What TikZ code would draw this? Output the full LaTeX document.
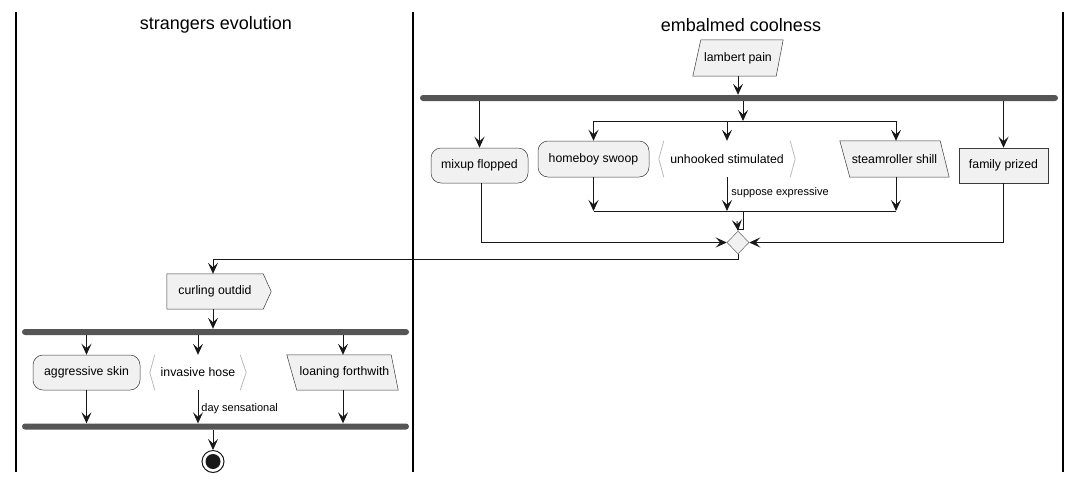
\documentclass[tikz,border=0pt]{standalone}
\usepackage{fontspec}
\setmainfont{Liberation Sans}
\usetikzlibrary{arrows.meta,calc,shapes.geometric}
\definecolor{nodefill}{HTML}{F1F1F1}
\definecolor{nodeline}{HTML}{181818}
\definecolor{barfill}{HTML}{555555}
\definecolor{brk}{HTML}{BBBBBB}
\tikzset{
  box/.style={inner sep=0pt, font=\fontsize{12.3}{14}\selectfont, text=black},
  shapeline/.style={draw=nodeline!85, line width=0.5pt, fill=nodefill},
  roundbox/.style={box, draw=nodeline!85, line width=0.5pt, fill=nodefill, rounded corners=10pt, rectangle},
  plainbox/.style={box, draw=nodeline!85, line width=0.5pt, fill=nodefill, rectangle},
  bar/.style={rectangle, fill=barfill, rounded corners=3pt, minimum height=6pt, inner sep=0pt},
  conn/.style={draw=nodeline, line width=0.9pt},
  arr/.style={conn, -{Stealth[length=11pt,width=10pt,inset=4.5pt]}},
  elabel/.style={font=\fontsize{11}{13}\selectfont, anchor=west, inner sep=0pt},
  lane/.style={line width=1.3pt, draw=black},
  title/.style={font=\fontsize{18}{21}\selectfont, inner sep=0pt},
}
\begin{document}
\begin{tikzpicture}[x=1pt,y=-1pt]
\useasboundingbox (0,0) rectangle (1082,483);
\fill[white] (0,0) rectangle (1082,483);
% lanes
\draw[lane] (16,12) -- (16,472);
\draw[lane] (413,12) -- (413,472);
\draw[lane] (1063,12) -- (1063,472);
\node[title] (t1) at (216,25) {strangers evolution};
\node[title] (t2) at (741,25) {embalmed coolness};

% ---------- right lane ----------
\node[box, minimum width=90pt, minimum height=36pt] (lp) at (738,58) {};
\draw[shapeline] (lp.south west) -- ($(lp.south east)+(-7,0)$) -- (lp.north east) -- ($(lp.north west)+(8,0)$) -- cycle;
\node[box] at (lp) {lambert pain};

\node[bar, minimum width=638pt] (b1) at (739,98) {};

\node[roundbox, minimum width=97pt, minimum height=35pt] (mix) at (479.5,165.5) {mixup flopped};
\node[roundbox, minimum width=111pt, minimum height=36pt] (hb) at (593.5,159) {homeboy swoop};
\node[box, minimum width=136pt, minimum height=36pt] (un) at (727,159) {unhooked stimulated};
\draw[brk, line width=0.8pt] ($(un.north west)+(5,0)$) -- (un.west) -- ($(un.south west)+(5,0)$);
\draw[brk, line width=0.8pt] ($(un.north east)+(-5,0)$) -- (un.east) -- ($(un.south east)+(-5,0)$);
\node[box, minimum width=109pt, minimum height=36pt] (st) at (894.5,159) {};
\draw[shapeline] (st.north west) -- ($(st.north east)+(-9,0)$) -- (st.south east) -- ($(st.south west)+(10,0)$) -- cycle;
\node[box] at (st) {steamroller shill};
\node[plainbox, minimum width=89pt, minimum height=35pt] (fam) at (1003.5,165.5) {family prized};

\node[draw=gray!80!black, line width=0.5pt, fill=nodefill, diamond, minimum width=22pt, minimum height=23pt, inner sep=0pt, shape aspect=1] (dia) at (738,242.5) {};

\coordinate (f1) at (743,121);
\coordinate (m1) at (743,211);
\coordinate (j1) at (737,229);
\coordinate (c1) at (213,259);

\draw[arr] (lp.south) -- (lp.south |- b1.north);
\draw[arr] (mix.north |- b1.south) -- (mix.north);
\draw[arr] (fam.north |- b1.south) -- (fam.north);
\draw[arr] (f1 |- b1.south) -- (f1);
\draw[conn] (hb.north |- f1) -- ([xshift=1.5pt]st.north |- f1);
\draw[arr] (hb.north |- f1) -- (hb.north);
\draw[arr] (un.north |- f1) -- (un.north);
\draw[arr] ([xshift=1.5pt]st.north |- f1) -- ([xshift=1.5pt]st.north);
\draw[arr] (hb.south) -- (hb.south |- m1);
\draw[arr] (un.south) -- (un.south |- m1) node[elabel, pos=0.5, xshift=4pt, yshift=1pt] (l1) {suppose expressive};
\draw[arr] ([xshift=1.5pt]st.south) -- ([xshift=1.5pt]st.south |- m1);
\draw[conn] (hb.south |- m1) -- ([xshift=1.5pt]st.south |- m1);
\draw[conn] (m1) -- (m1 |- j1) -- (j1);
\draw[arr] ($(j1)+(0,-8)$) -- (dia.north);
\draw[arr] ([xshift=1.5pt]mix.south) |- (dia.west);
\draw[arr] (fam.south) |- (dia.east);
\draw[conn] (dia.south) |- (c1);

% ---------- left lane ----------
\node[box, minimum width=104pt, minimum height=35pt] (cur) at (219,291.5) {};
\draw[shapeline] (cur.north west) -- ($(cur.north east)+(-8,0)$) -- (cur.east) -- ($(cur.south east)+(-8,0)$) -- (cur.south west) -- cycle;
\node[box] at ([xshift=-4pt]cur.center) {curling outdid};
\draw[arr] (c1) -- (c1 |- cur.north);

\node[bar, minimum width=387pt] (b2) at (215.5,332) {};
\draw[arr] (c1 |- cur.south) -- (c1 |- b2.north);

\node[roundbox, minimum width=107pt, minimum height=35pt] (ag) at (86.5,372.5) {aggressive skin};
\node[box, minimum width=96pt, minimum height=35pt] (inv) at (198,372.5) {invasive hose};
\draw[brk, line width=0.8pt] ($(inv.north west)+(5,0)$) -- (inv.west) -- ($(inv.south west)+(5,0)$);
\draw[brk, line width=0.8pt] ($(inv.north east)+(-6,0)$) -- (inv.east) -- ($(inv.south east)+(-6,0)$);
\node[box, minimum width=111pt, minimum height=35pt] (lo) at (342.5,372.5) {};
\draw[shapeline] (lo.north west) -- ($(lo.north east)+(-7,0)$) -- (lo.south east) -- ($(lo.south west)+(10,0)$) -- cycle;
\node[box] at ([xshift=2pt]lo.center) {loaning forthwith};

\node[bar, minimum width=387pt] (b3) at (215.5,426.5) {};

\draw[arr] (ag.north |- b2.south) -- (ag.north);
\draw[arr] (inv.north |- b2.south) -- (inv.north);
\draw[arr] ([xshift=0.5pt]lo.north |- b2.south) -- ([xshift=0.5pt]lo.north);
\draw[arr] (ag.south) -- (ag.south |- b3.north);
\draw[arr] (inv.south) -- (inv.south |- b3.north) node[elabel, pos=0.55, xshift=3pt] (l2) {day sensational};
\draw[arr] ([xshift=0.5pt]lo.south) -- ([xshift=0.5pt]lo.south |- b3.north);

\node[circle, draw=nodeline, line width=1pt, fill=white, minimum size=22pt, inner sep=0pt] (end) at (213,461.5) {};
\fill[nodeline] (end.center) circle (7.5pt);
\draw[arr] (c1 |- b3.south) -- (end.north);
\end{tikzpicture}
\end{document}
